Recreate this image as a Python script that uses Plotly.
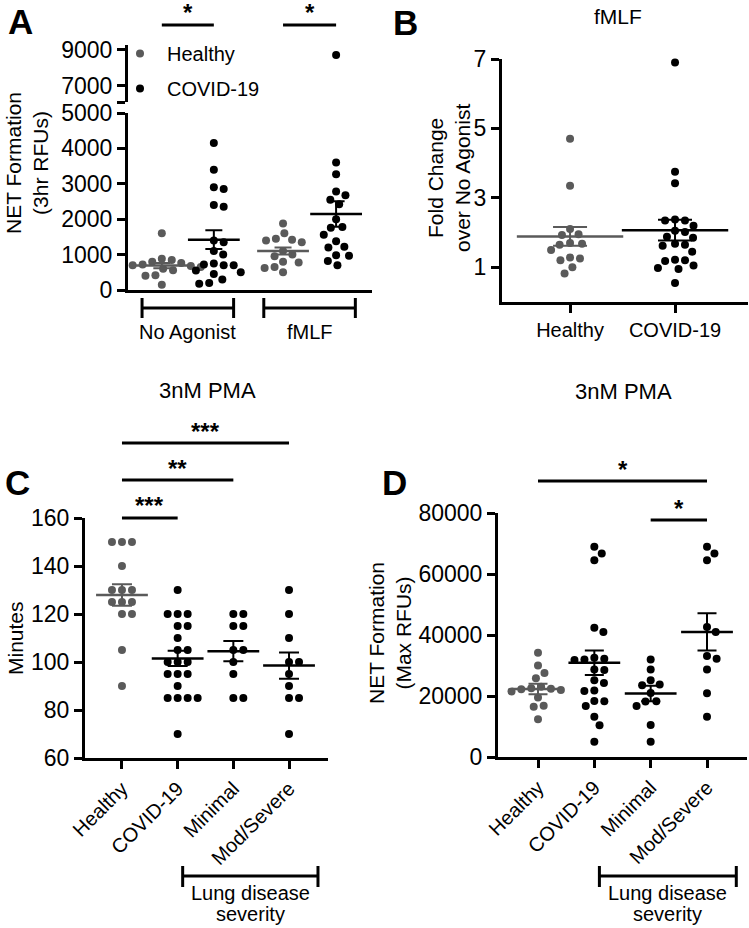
import numpy as np
import plotly.graph_objects as go

W, H = 749, 928

# ---------------- DATA ----------------
# Panel A: NET formation (3hr RFUs)
a_groups = ["No Agonist", "fMLF"]
a_healthy_noag = [1600, 880, 850, 800, 760, 720, 700, 680, 650, 600, 560, 420, 400, 150]
a_covid_noag = [4150, 3400, 2900, 2850, 2400, 2350, 1400, 1350, 1100, 1000, 750, 720,
                700, 700, 550, 500, 450, 300, 200, 180]
a_healthy_fmlf = [1880, 1600, 1450, 1420, 1400, 1350, 1100, 1000, 950, 800, 780, 650, 620, 500]
a_covid_fmlf = [8700, 3600, 3270, 2780, 2680, 2550, 2420, 2000, 1780, 1760, 1560, 1380,
                1220, 1200, 980, 970, 820, 700]
a_means = [690, 1420, 1100, 2150]
a_sems = [75, 265, 100, 360]

# Panel B: fold change over no agonist (fMLF)
b_categories = ["Healthy", "COVID-19"]
b_healthy = [4.7, 3.35, 2.1, 1.95, 1.93, 1.7, 1.68, 1.65, 1.5, 1.28, 1.25, 1.2, 1.0, 0.82]
b_covid = [6.9, 3.75, 3.42, 2.38, 2.35, 2.35, 2.2, 2.05, 2.02, 1.88, 1.85, 1.68, 1.65,
           1.62, 1.45, 1.22, 1.2, 1.18, 1.05, 0.98, 0.95, 0.55]
b_means = [1.89, 2.07]
b_sems = [0.27, 0.30]

# Panel C: minutes (3nM PMA)
cd_categories = ["Healthy", "COVID-19", "Minimal", "Mod/Severe"]
c_healthy = [150, 150, 150, 140, 130, 130, 130, 125, 125, 125, 120, 120, 105, 90]
c_covid = [130, 120, 120, 120, 115, 115, 110, 105, 105, 100, 100, 100, 95, 95, 95, 90,
           85, 85, 85, 85, 70]
c_minimal = [120, 120, 115, 115, 105, 105, 100, 95, 85, 85]
c_modsev = [130, 120, 110, 100, 100, 95, 90, 85, 85, 70]
c_means = [127.9, 101.5, 104.5, 98.5]
c_sems = [4.5, 3.2, 4.2, 5.5]

# Panel D: NET formation (Max RFUs, 3nM PMA)
d_healthy = [34200, 30000, 27500, 25800, 23000, 22500, 22400, 22200, 22000, 21500,
             19500, 16800, 16500, 12400]
d_covid = [68900, 66700, 64500, 42400, 41000, 32500, 32200, 32000, 31800, 28700, 28500,
           25200, 24300, 21800, 21600, 18400, 18300, 16700, 13200, 10400, 5000]
d_minimal = [32000, 28700, 25200, 23800, 23500, 21000, 18300, 18200, 16700, 10500, 5000]
d_modsev = [68900, 66700, 64500, 42600, 41000, 33100, 32200, 28700, 20900, 13200]
d_means = [22300, 30900, 20800, 41000]
d_sems = [1750, 4000, 2550, 6100]

# ---------------- STYLE / LAYOUT ----------------
FONT = "Liberation Sans, Arial, sans-serif"
GREY = "#5a5a5a"
BLACK = "#000000"
MS = 8          # marker diameter
SWARM_D = 10.0  # px spacing for swarm


def fx(p):
    return p / W


def fy(p):
    return 1 - p / H


def swarm(values, ppu_y, ppu_x, d=SWARM_D):
    ys = np.asarray(values, float) * ppu_y
    order = np.argsort(-ys, kind="stable")
    placed = []
    xs = np.zeros(len(ys))
    for i in order:
        y = ys[i]
        cands = [0.0]
        for (px_, py_) in placed:
            dy = abs(py_ - y)
            if dy < d:
                dx = np.sqrt(d * d - dy * dy)
                cands += [px_ + dx, px_ - dx]
        cands.sort(key=lambda c: (round(abs(c), 3), -c))
        for c in cands:
            if all((c - px_) ** 2 + (y - py_) ** 2 >= d * d - 1e-6 for px_, py_ in placed):
                xs[i] = c
                break
        placed.append((xs[i], y))
    return xs / ppu_x


# panel geometry (pixels)
A_X = (128, 372); A_Y = (290, 113); A_Y2 = (102, 45)
A_XR = [0.35, 5.04]; A_YR = [0, 5000]; A_Y2R = [6100, 9250]
A_POS = [1.0, 2.0, 3.33, 4.35]
B_X = (502, 748); B_Y = (302, 59)
B_XR = [0.352, 2.695]; B_YR = [0, 7]
B_POS = [1.0, 2.0]
C_X = (85, 328); C_Y = (758, 518)
C_XR = [0.336, 4.70]; C_YR = [60, 160]
D_X = (498, 747); D_Y = (757, 513)
D_XR = [0.29, 4.71]; D_YR = [0, 80000]
CD_POS = [1.0, 2.0, 3.0, 4.0]


def ppu(dom, rng):
    return abs(dom[1] - dom[0]) / (rng[1] - rng[0])


fig = go.Figure()


def add_group(values, pos, color, xa, ya, ppy, ppx, name=None, legendgroup=None):
    off = swarm(values, ppy, ppx)
    fig.add_trace(go.Scatter(
        x=pos + off, y=values, mode="markers", xaxis=xa, yaxis=ya,
        marker=dict(size=MS, color=color, line=dict(width=0)),
        cliponaxis=False, hoverinfo="skip",
        name=name if name else "", showlegend=bool(name),
        legendgroup=legendgroup,
    ))


def add_mean(mean, sem, pos, color, xa, ya, width, cap, lw=2.5):
    fig.add_trace(go.Scatter(
        x=[pos], y=[mean], mode="markers", xaxis=xa, yaxis=ya,
        marker=dict(symbol="line-ew", size=width, color=color,
                    line=dict(width=lw, color=color)),
        error_y=dict(type="data", array=[sem], visible=True, color=color,
                     thickness=2, width=cap),
        cliponaxis=False, showlegend=False, hoverinfo="skip",
    ))


# Panel A
ppyA = ppu(A_Y, A_YR); ppxA = ppu(A_X, A_XR); ppyA2 = ppu(A_Y2, A_Y2R)
add_group(a_healthy_noag, A_POS[0], GREY, "x", "y", ppyA, ppxA, "Healthy", "h")
add_group(a_covid_noag, A_POS[1], BLACK, "x", "y", ppyA, ppxA, "COVID-19", "c")
add_group(a_healthy_fmlf, A_POS[2], GREY, "x", "y", ppyA, ppxA)
low = [v for v in a_covid_fmlf if v <= A_YR[1]]
high = [v for v in a_covid_fmlf if v > A_YR[1]]
add_group(low, A_POS[3], BLACK, "x", "y", ppyA, ppxA)
add_group(high, A_POS[3], BLACK, "x", "y2", ppyA2, ppxA)
for i, col in enumerate([GREY, BLACK, GREY, BLACK]):
    add_mean(a_means[i], a_sems[i], A_POS[i], col, "x", "y", 37, 8.5)

# Panel B
ppyB = ppu(B_Y, B_YR); ppxB = ppu(B_X, B_XR)
add_group(b_healthy, B_POS[0], GREY, "x2", "y3", ppyB, ppxB)
add_group(b_covid, B_POS[1], BLACK, "x2", "y3", ppyB, ppxB)
for i, col in enumerate([GREY, BLACK]):
    add_mean(b_means[i], b_sems[i], B_POS[i], col, "x2", "y3", 76, 17)

# Panel C
ppyC = ppu(C_Y, C_YR); ppxC = ppu(C_X, C_XR)
for vals, p, col in zip([c_healthy, c_covid, c_minimal, c_modsev], CD_POS,
                        [GREY, BLACK, BLACK, BLACK]):
    add_group(vals, p, col, "x3", "y4", ppyC, ppxC)
for i, col in enumerate([GREY, BLACK, BLACK, BLACK]):
    add_mean(c_means[i], c_sems[i], CD_POS[i], col, "x3", "y4", 37, 10)

# Panel D
ppyD = ppu(D_Y, D_YR); ppxD = ppu(D_X, D_XR)
for vals, p, col in zip([d_healthy, d_covid, d_minimal, d_modsev], CD_POS,
                        [GREY, BLACK, BLACK, BLACK]):
    add_group(vals, p, col, "x4", "y5", ppyD, ppxD)
for i, col in enumerate([GREY, BLACK, BLACK, BLACK]):
    add_mean(d_means[i], d_sems[i], CD_POS[i], col, "x4", "y5", 37, 9.5)

# ---------------- AXES ----------------
BASE_AX = dict(showline=True, linecolor="black", linewidth=3, showgrid=False,
               zeroline=False, ticks="outside", ticklen=8, tickwidth=3,
               tickcolor="black", automargin=False, tickformat="d",
               tickfont=dict(size=23, color="black", family=FONT))
CAT_FONT = dict(size=20, color="black", family=FONT)


def ax(**kw):
    d = dict(BASE_AX)
    d.update(kw)
    return d


def xdom(p):
    return [fx(p[0]), fx(p[1])]


def ydom(p):
    return [fy(p[0]), fy(p[1])]


fig.update_layout(
    template="none",
    width=W, height=H, margin=dict(l=0, r=0, t=0, b=0, autoexpand=False),
    paper_bgcolor="white", plot_bgcolor="white",
    font=dict(family=FONT, color="black"),
    xaxis=ax(ticks="", domain=xdom(A_X), range=A_XR, showticklabels=False, anchor="y"),
    yaxis=ax(domain=ydom(A_Y), range=A_YR, anchor="x",
             tickvals=[0, 1000, 2000, 3000, 4000, 5000]),
    yaxis2=ax(domain=ydom(A_Y2), range=A_Y2R, anchor="x",
              tickvals=[A_Y2R[0], 7000, 9000], ticktext=["", "7000", "9000"]),
    xaxis2=ax(domain=xdom(B_X), range=B_XR, anchor="y3",
              tickvals=B_POS, ticktext=b_categories, tickfont=CAT_FONT),
    yaxis3=ax(domain=ydom(B_Y), range=B_YR, anchor="x2", tickvals=[1, 3, 5, 7]),
    xaxis3=ax(domain=xdom(C_X), range=C_XR, anchor="y4", tickvals=CD_POS,
              ticktext=cd_categories, tickangle=-45, tickfont=CAT_FONT),
    yaxis4=ax(domain=ydom(C_Y), range=C_YR, anchor="x3",
              tickvals=[60, 80, 100, 120, 140, 160]),
    xaxis4=ax(domain=xdom(D_X), range=D_XR, anchor="y5", tickvals=CD_POS,
              ticktext=cd_categories, tickangle=-45, tickfont=CAT_FONT),
    yaxis5=ax(domain=ydom(D_Y), range=D_YR, anchor="x4",
              tickvals=[0, 20000, 40000, 60000, 80000]),
    legend=dict(x=fx(113), y=fy(34), xanchor="left", yanchor="top",
                font=dict(size=20, family=FONT, color="black"),
                itemwidth=44, tracegroupgap=6, bgcolor="rgba(0,0,0,0)",
                borderwidth=0),
)

shapes = []
annotations = []


def hline(xref, x0, x1, ypx, w=3):
    shapes.append(dict(type="line", xref=xref, yref="paper", x0=x0, x1=x1,
                       y0=fy(ypx), y1=fy(ypx), line=dict(color="black", width=w)))


def vline(xref, x, y0px, y1px, w=3):
    shapes.append(dict(type="line", xref=xref, yref="paper", x0=x, x1=x,
                       y0=fy(y0px), y1=fy(y1px), line=dict(color="black", width=w)))


def text(x, y, s, size, xref="paper", bold=False, angle=0, xanchor="center",
         yanchor="middle"):
    annotations.append(dict(
        x=x if xref != "paper" else fx(x), y=fy(y), xref=xref, yref="paper",
        text=f"<b>{s}</b>" if bold else s, showarrow=False, textangle=angle,
        font=dict(size=size, family=FONT, color="black"),
        xanchor=xanchor, yanchor=yanchor))


def sig(xref, a, b, ypx, stars):
    hline(xref, a, b, ypx)
    text((a + b) / 2, ypx - 12, stars, 24, xref=xref, bold=True)


# significance bars
sig("x", A_POS[0], A_POS[1], 25, "*")
sig("x", A_POS[2], A_POS[3], 25, "*")
sig("x3", CD_POS[0], CD_POS[3], 443, "***")
sig("x3", CD_POS[0], CD_POS[2], 480, "**")
sig("x3", CD_POS[0], CD_POS[1], 518, "***")
sig("x4", CD_POS[0], CD_POS[3], 481, "*")
sig("x4", CD_POS[2], CD_POS[3], 520, "*")

# group brackets in A
for grp, (p0, p1) in zip(a_groups, [(A_POS[0], A_POS[1]), (A_POS[2], A_POS[3])]):
    c = (p0 + p1) / 2
    hline("x", c - 0.88, c + 0.88, 308)
    vline("x", c - 0.88, 298, 318)
    vline("x", c + 0.88, 298, 318)
    text(c, 332, grp, 20, xref="x")

# lung disease brackets in C and D
for xr in ["x3", "x4"]:
    hline(xr, 2.09, 4.52, 876)
    vline(xr, 2.09, 866, 887)
    vline(xr, 4.52, 866, 887)
    text((2.09 + 4.52) / 2, 893, "Lung disease", 20, xref=xr)
    text((2.09 + 4.52) / 2, 914, "severity", 20, xref=xr)

# axis titles
text(27, 163, "NET Formation<br>(3hr RFUs)", 21, angle=-90)
text(449, 178, "Fold Change<br>over No Agonist", 21, angle=-90)
text(15, 638, "Minutes", 21, angle=-90)
text(390, 633, "NET Formation<br>(Max RFUs)", 21, angle=-90)

# panel titles
text(618, 16, "fMLF", 21)
text(207, 390, "3nM PMA", 22)
text(623, 391, "3nM PMA", 22)

# panel letters
text(20, 21, "A", 35, bold=True)
text(406, 23, "B", 35, bold=True)
text(17, 482, "C", 35, bold=True)
text(394, 482, "D", 35, bold=True)

fig.update_layout(shapes=shapes, annotations=annotations)
fig.write_html("out.html",
               config={"displayModeBar": False},
               post_script="document.body.style.margin='0';document.body.style.overflow='hidden';")
